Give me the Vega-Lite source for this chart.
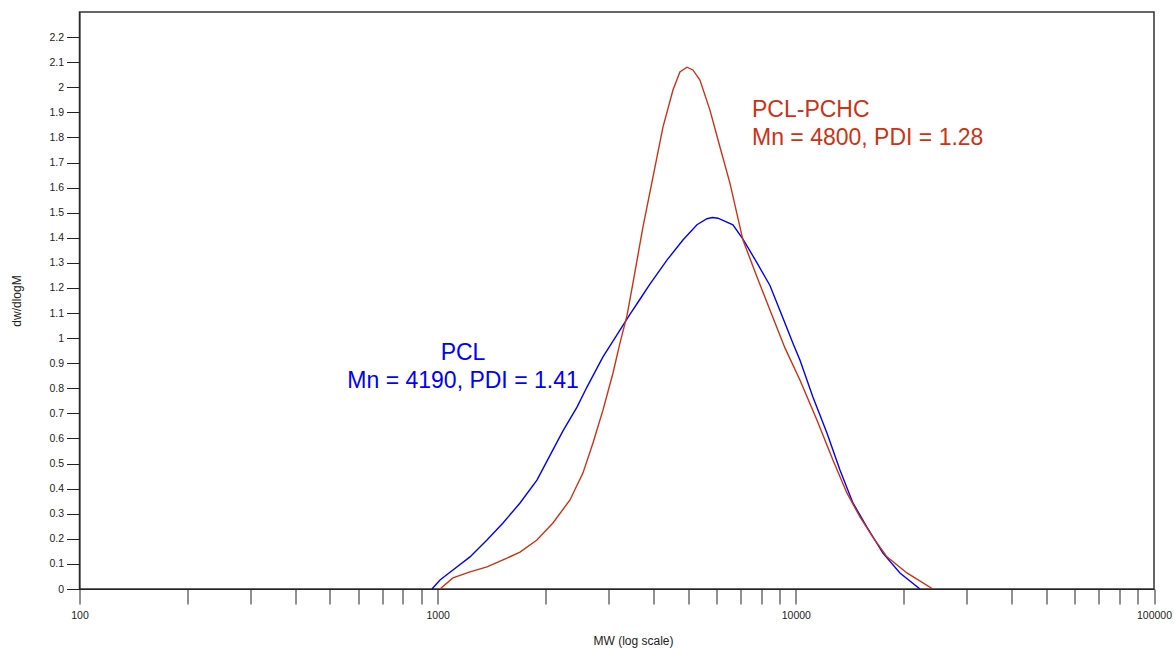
{
  "$schema": "https://vega.github.io/schema/vega-lite/v6.json",
  "width": 1074.5,
  "height": 577,
  "autosize": "none",
  "padding": {"left": 79.5, "top": 12, "right": 20, "bottom": 59},
  "background": "white",
  "config": {
    "view": {"stroke": "#333333", "strokeWidth": 1.5},
    "font": "Liberation Sans"
  },
  "datasets": {
    "curves": [
      {"series": "PCL", "MW": 964, "w": 0},
      {"series": "PCL", "MW": 1015, "w": 0.036},
      {"series": "PCL", "MW": 1103, "w": 0.076},
      {"series": "PCL", "MW": 1231, "w": 0.128},
      {"series": "PCL", "MW": 1373, "w": 0.195},
      {"series": "PCL", "MW": 1522, "w": 0.263},
      {"series": "PCL", "MW": 1698, "w": 0.343},
      {"series": "PCL", "MW": 1893, "w": 0.434},
      {"series": "PCL", "MW": 2019, "w": 0.51},
      {"series": "PCL", "MW": 2238, "w": 0.63},
      {"series": "PCL", "MW": 2449, "w": 0.725},
      {"series": "PCL", "MW": 2611, "w": 0.805},
      {"series": "PCL", "MW": 2894, "w": 0.925},
      {"series": "PCL", "MW": 3228, "w": 1.032},
      {"series": "PCL", "MW": 3442, "w": 1.095},
      {"series": "PCL", "MW": 3671, "w": 1.155},
      {"series": "PCL", "MW": 3914, "w": 1.215},
      {"series": "PCL", "MW": 4366, "w": 1.311},
      {"series": "PCL", "MW": 4839, "w": 1.391},
      {"series": "PCL", "MW": 5296, "w": 1.452},
      {"series": "PCL", "MW": 5647, "w": 1.476},
      {"series": "PCL", "MW": 5850, "w": 1.481},
      {"series": "PCL", "MW": 6061, "w": 1.478},
      {"series": "PCL", "MW": 6674, "w": 1.452},
      {"series": "PCL", "MW": 7118, "w": 1.395},
      {"series": "PCL", "MW": 7791, "w": 1.30},
      {"series": "PCL", "MW": 8467, "w": 1.21},
      {"series": "PCL", "MW": 9204, "w": 1.08},
      {"series": "PCL", "MW": 9815, "w": 0.98},
      {"series": "PCL", "MW": 10266, "w": 0.913},
      {"series": "PCL", "MW": 11160, "w": 0.765},
      {"series": "PCL", "MW": 12214, "w": 0.622},
      {"series": "PCL", "MW": 13280, "w": 0.474},
      {"series": "PCL", "MW": 14436, "w": 0.343},
      {"series": "PCL", "MW": 15795, "w": 0.247},
      {"series": "PCL", "MW": 17508, "w": 0.143},
      {"series": "PCL", "MW": 19530, "w": 0.064},
      {"series": "PCL", "MW": 22208, "w": 0},
      {"series": "PCL-PCHC", "MW": 1015, "w": 0},
      {"series": "PCL-PCHC", "MW": 1103, "w": 0.044},
      {"series": "PCL-PCHC", "MW": 1231, "w": 0.068},
      {"series": "PCL-PCHC", "MW": 1373, "w": 0.088},
      {"series": "PCL-PCHC", "MW": 1522, "w": 0.116},
      {"series": "PCL-PCHC", "MW": 1698, "w": 0.147},
      {"series": "PCL-PCHC", "MW": 1893, "w": 0.195},
      {"series": "PCL-PCHC", "MW": 2098, "w": 0.263},
      {"series": "PCL-PCHC", "MW": 2341, "w": 0.355},
      {"series": "PCL-PCHC", "MW": 2544, "w": 0.462},
      {"series": "PCL-PCHC", "MW": 2714, "w": 0.582},
      {"series": "PCL-PCHC", "MW": 2894, "w": 0.713},
      {"series": "PCL-PCHC", "MW": 3087, "w": 0.861},
      {"series": "PCL-PCHC", "MW": 3228, "w": 0.98},
      {"series": "PCL-PCHC", "MW": 3377, "w": 1.09},
      {"series": "PCL-PCHC", "MW": 3510, "w": 1.22},
      {"series": "PCL-PCHC", "MW": 3743, "w": 1.443},
      {"series": "PCL-PCHC", "MW": 3991, "w": 1.642},
      {"series": "PCL-PCHC", "MW": 4256, "w": 1.841},
      {"series": "PCL-PCHC", "MW": 4539, "w": 1.989},
      {"series": "PCL-PCHC", "MW": 4746, "w": 2.061},
      {"series": "PCL-PCHC", "MW": 4966, "w": 2.08},
      {"series": "PCL-PCHC", "MW": 5160, "w": 2.069},
      {"series": "PCL-PCHC", "MW": 5398, "w": 2.029},
      {"series": "PCL-PCHC", "MW": 5757, "w": 1.909},
      {"series": "PCL-PCHC", "MW": 6140, "w": 1.762},
      {"series": "PCL-PCHC", "MW": 6546, "w": 1.618},
      {"series": "PCL-PCHC", "MW": 7118, "w": 1.391},
      {"series": "PCL-PCHC", "MW": 7791, "w": 1.244},
      {"series": "PCL-PCHC", "MW": 8467, "w": 1.112},
      {"series": "PCL-PCHC", "MW": 9324, "w": 0.961},
      {"series": "PCL-PCHC", "MW": 10266, "w": 0.833},
      {"series": "PCL-PCHC", "MW": 11451, "w": 0.674},
      {"series": "PCL-PCHC", "MW": 12692, "w": 0.514},
      {"series": "PCL-PCHC", "MW": 13887, "w": 0.383},
      {"series": "PCL-PCHC", "MW": 15100, "w": 0.287},
      {"series": "PCL-PCHC", "MW": 16409, "w": 0.207},
      {"series": "PCL-PCHC", "MW": 17965, "w": 0.128},
      {"series": "PCL-PCHC", "MW": 20425, "w": 0.064},
      {"series": "PCL-PCHC", "MW": 24140, "w": 0}
    ],
    "blueText": [
      {"label": "PCL", "MW": 1177, "w": 0.913},
      {"label": "Mn = 4190, PDI = 1.41", "MW": 1177, "w": 0.801}
    ],
    "redText": [
      {"label": "PCL-PCHC", "MW": 7543, "w": 1.881},
      {"label": "Mn = 4800, PDI = 1.28", "MW": 7543, "w": 1.77}
    ]
  },
  "layer": [
    {
      "data": {"name": "curves"},
      "mark": {"type": "line", "strokeWidth": 1.4, "clip": true},
      "encoding": {
        "x": {
          "field": "MW",
          "type": "quantitative",
          "scale": {"type": "log", "domain": [100, 100000], "nice": false},
          "axis": {
            "title": "MW (log scale)",
            "titleFont": "Liberation Sans",
            "titleFontSize": 12,
            "titleFontWeight": "normal",
            "titleColor": "#222222",
            "titleX": 553.5,
            "titleY": 51,
            "titleAlign": "center",
            "titleBaseline": "middle",
            "values": [100, 200, 300, 400, 500, 600, 700, 800, 900, 1000, 2000, 3000, 4000, 5000, 6000, 7000, 8000, 9000, 10000, 20000, 30000, 40000, 50000, 60000, 70000, 80000, 90000, 100000],
            "tickCount": 100,
            "labelExpr": "datum.value == 100 || datum.value == 1000 || datum.value == 10000 || datum.value == 100000 ? format(datum.value, 'd') : ''",
            "labelOverlap": false,
            "labelFlush": false,
            "labelFont": "Liberation Sans",
            "labelFontSize": 10.5,
            "labelColor": "#222222",
            "labelPadding": 6,
            "tickSize": 15,
            "tickColor": "#222222",
            "domainColor": "#222222",
            "grid": false
          }
        },
        "y": {
          "field": "w",
          "type": "quantitative",
          "scale": {"domain": [0, 2.3], "nice": false},
          "axis": {
            "title": "dw/dlogM",
            "titleFont": "Liberation Sans",
            "titleFontSize": 12,
            "titleFontWeight": "normal",
            "titleColor": "#222222",
            "titleAngle": -90,
            "titleX": -63,
            "titleY": 288.5,
            "titleAlign": "center",
            "titleBaseline": "middle",
            "values": [0, 0.1, 0.2, 0.3, 0.4, 0.5, 0.6, 0.7, 0.8, 0.9, 1, 1.1, 1.2, 1.3, 1.4, 1.5, 1.6, 1.7, 1.8, 1.9, 2, 2.1, 2.2],
            "tickCount": 100,
            "format": ".1~f",
            "labelOverlap": false,
            "labelFont": "Liberation Sans",
            "labelFontSize": 10.5,
            "labelColor": "#222222",
            "labelPadding": 3,
            "tickSize": 13,
            "tickColor": "#222222",
            "domainColor": "#222222",
            "grid": false
          }
        },
        "color": {
          "field": "series",
          "type": "nominal",
          "scale": {"domain": ["PCL", "PCL-PCHC"], "range": ["#0000ff", "#cc3314"]},
          "legend": null
        }
      }
    },
    {
      "data": {"name": "blueText"},
      "mark": {"type": "text", "align": "center", "baseline": "alphabetic", "font": "Liberation Sans", "fontSize": 23, "color": "#0000ff"},
      "encoding": {
        "x": {"field": "MW", "type": "quantitative"},
        "y": {"field": "w", "type": "quantitative"},
        "text": {"field": "label", "type": "nominal"}
      }
    },
    {
      "data": {"name": "redText"},
      "mark": {"type": "text", "align": "left", "baseline": "alphabetic", "font": "Liberation Sans", "fontSize": 23, "color": "#cc3314"},
      "encoding": {
        "x": {"field": "MW", "type": "quantitative"},
        "y": {"field": "w", "type": "quantitative"},
        "text": {"field": "label", "type": "nominal"}
      }
    }
  ]
}
